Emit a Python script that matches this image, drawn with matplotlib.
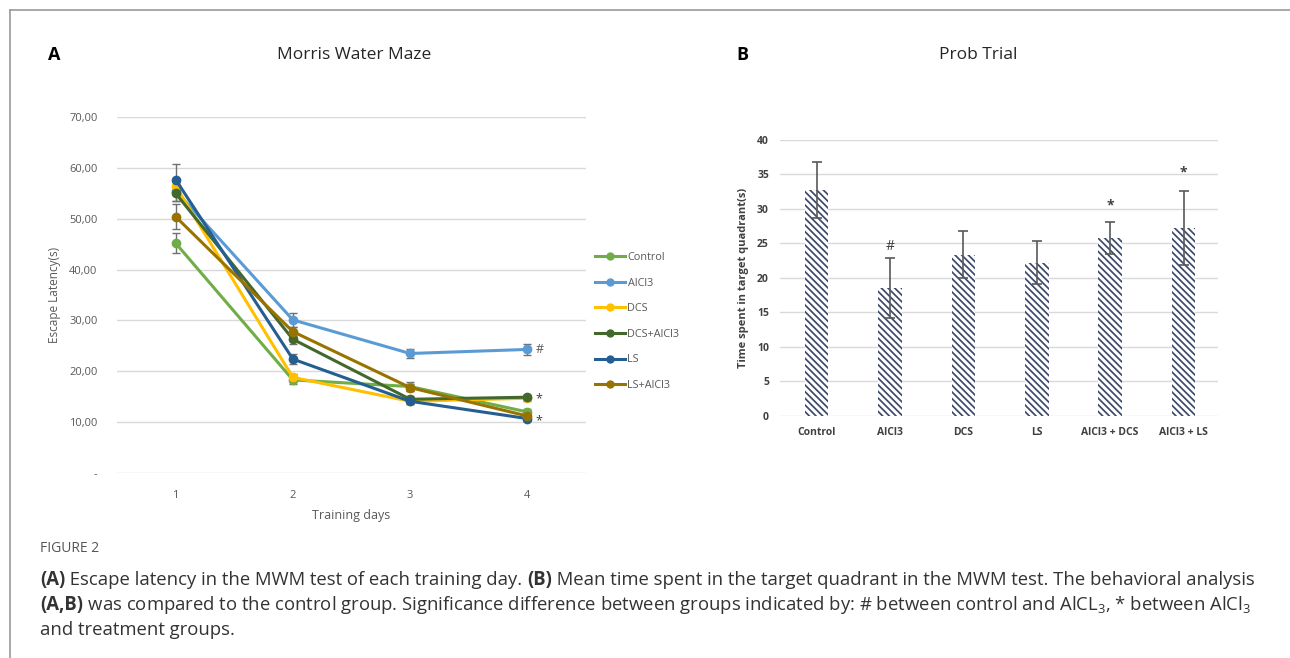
import matplotlib
matplotlib.use("Agg")
import matplotlib.pyplot as plt
from matplotlib.lines import Line2D
import numpy as np

plt.rcParams['font.family'] = ['Open Sans', 'DejaVu Sans']
plt.rcParams['mathtext.fontset'] = 'custom'
plt.rcParams['mathtext.rm'] = 'Open Sans'
plt.rcParams['mathtext.it'] = 'Open Sans'
plt.rcParams['mathtext.bf'] = 'Open Sans:bold'
plt.rcParams['hatch.linewidth'] = 1.25

# ---------------- data: Morris Water Maze ----------------
days = [1, 2, 3, 4]
groups = ["Control", "AlCl3", "DCS", "DCS+AlCl3", "LS", "LS+AlCl3"]
control = [45.2, 18.3, 17.0, 12.0]
alcl3 = [55.5, 30.1, 23.5, 24.3]
dcs = [56.4, 18.8, 14.1, 14.7]
dcs_alcl3 = [55.0, 26.3, 14.5, 14.9]
ls = [57.7, 22.4, 14.1, 10.7]
ls_alcl3 = [50.4, 27.8, 16.8, 11.2]
control_err = [2.0, 0.8, 0.8, 0.6]
alcl3_err = [2.0, 1.3, 0.9, 1.0]
dcs_err = [1.5, 0.6, 0.5, 0.5]
dcs_alcl3_err = [1.5, 1.0, 0.6, 0.5]
ls_err = [3.0, 1.0, 0.6, 0.5]
ls_alcl3_err = [2.5, 0.9, 0.7, 0.6]
line_colors = ["#70AD47", "#5B9BD5", "#FFC000", "#43682B", "#255E91", "#997300"]
left_yticks = [0, 10, 20, 30, 40, 50, 60, 70]
left_yticklabels = ["-", "10,00", "20,00", "30,00", "40,00", "50,00", "60,00", "70,00"]

# ---------------- data: Probe trial ----------------
probe_groups = ["Control", "AlCl3", "DCS", "LS", "AlCl3 + DCS", "AlCl3 + LS"]
probe_labels = ["Control", "AlCl3", "DCS", "LS", "AlCl3 + DCS", "AlCl3 + LS"]
probe_means = [32.7, 18.5, 23.3, 22.2, 25.7, 27.2]
probe_err = [4.0, 4.3, 3.4, 3.1, 2.3, 5.3]
probe_marks = ["", "#", "", "", "*", "*"]
probe_mark_y = [0, 24.5, 0, 0, 30.4, 35.3]

W, H = 1290, 658
fig = plt.figure(figsize=(W / 100, H / 100), dpi=100)
fig.patch.set_facecolor("white")

def fx(px):
    return px / W

def fy(py):
    return 1 - py / H

# border lines
fig.add_artist(Line2D([fx(10), 1.0], [fy(10), fy(10)], color="#9a9a9a", lw=1.2))
fig.add_artist(Line2D([fx(10), fx(10)], [fy(10), 0.0], color="#9a9a9a", lw=1.2))

# ---------------- left chart ----------------
axL = fig.add_axes([fx(117), fy(473), fx(586) - fx(117), fy(117) - fy(473)])
series = [control, alcl3, dcs, dcs_alcl3, ls, ls_alcl3]
errs = [control_err, alcl3_err, dcs_err, dcs_alcl3_err, ls_err, ls_alcl3_err]
for name, vals, err, col in zip(groups, series, errs, line_colors):
    axL.errorbar(days, vals, yerr=err, color=col, lw=2.2, marker="o", ms=6,
                 ecolor="#707070", elinewidth=1.0, capsize=3, capthick=1.0,
                 label=name, zorder=3)
axL.set_xlim(0.5, 4.5)
axL.set_ylim(0, 70)
axL.set_yticks(left_yticks)
axL.set_yticklabels(left_yticklabels)
axL.set_xticks(days)
axL.grid(axis="y", color="#d9d9d9", lw=1.0)
axL.set_axisbelow(True)
for s in axL.spines.values():
    s.set_visible(False)
axL.tick_params(length=0, labelsize=8, colors="#595959", pad=14)
axL.tick_params(axis="x", pad=12)
axL.set_ylabel("Escape Latency(s)", fontsize=8.5, color="#595959", labelpad=6)
axL.set_xlabel("Training days", fontsize=9, color="#595959", labelpad=6)
axL.text(4.07, alcl3[3], "#", fontsize=9, color="#595959", va="center", ha="left")
axL.text(4.07, dcs_alcl3[3] - 0.3, "*", fontsize=9, color="#404040", va="center", ha="left")
axL.text(4.07, ls[3] - 0.5, "*", fontsize=9, color="#404040", va="center", ha="left")

handles = [Line2D([0], [0], color=c, lw=2.2, marker="o", ms=5) for c in line_colors]
leg = fig.legend(handles, groups, loc="upper left",
                 bbox_to_anchor=(fx(595), fy(252)), frameon=False, fontsize=7.8,
                 labelspacing=1.35, handlelength=2.8, handletextpad=0.2,
                 labelcolor="#595959", borderaxespad=0, borderpad=0)

fig.text(fx(48), fy(55), "A", fontsize=13, fontweight="bold", ha="left", va="center")
fig.text(fx(354), fy(55), "Morris Water Maze", fontsize=12.5, ha="center", va="center", color="#262626")

# ---------------- right chart ----------------
axR = fig.add_axes([fx(780), fy(416), fx(1218) - fx(780), fy(139.5) - fy(416)])
x = np.arange(len(probe_groups))
axR.bar(x, probe_means, width=0.32, color="white", edgecolor="#3F4A6B",
        hatch="\\\\\\\\\\", linewidth=0, zorder=2)
axR.errorbar(x, probe_means, yerr=probe_err, fmt="none", ecolor="#595959",
             elinewidth=1.2, capsize=3.5, capthick=1.2, zorder=3)
for xi, m, my in zip(x, probe_marks, probe_mark_y):
    if m:
        axR.text(xi, my, m, ha="center", va="center", fontsize=10,
                 color="#404040", fontweight="bold" if m == "*" else "normal")
axR.set_xlim(-0.5, 5.47)
axR.set_ylim(0, 40)
axR.set_yticks(range(0, 41, 5))
axR.set_xticks(x)
axR.set_xticklabels(probe_labels)
axR.grid(axis="y", color="#d9d9d9", lw=1.0)
axR.set_axisbelow(True)
for s in axR.spines.values():
    s.set_visible(False)
axR.tick_params(length=0, labelsize=7.5, colors="#404040", pad=8)
for lab in axR.get_xticklabels() + axR.get_yticklabels():
    lab.set_fontweight("bold")
axR.set_ylabel("Time spent in target quadrant(s)", fontsize=8, color="#404040",
               fontweight="bold", labelpad=6)

fig.text(fx(736), fy(55), "B", fontsize=13, fontweight="bold", ha="left", va="center")
fig.text(fx(978), fy(55), "Prob Trial", fontsize=12.5, ha="center", va="center", color="#262626")

# ---------------- caption ----------------
fig.text(fx(40), fy(548), "FIGURE 2", fontsize=10, color="#555555", va="center", ha="left")

renderer = fig.canvas.get_renderer()
cap_color = "#333333"
cap_size = 13.35

def runs(xpx, ypx, parts):
    xcur = xpx
    for txt, bold in parts:
        t = fig.text(fx(xcur), fy(ypx), txt, fontsize=cap_size, color=cap_color,
                     fontweight="bold" if bold else "normal", va="center", ha="left")
        bb = t.get_window_extent(renderer=renderer)
        xcur += bb.width

runs(40, 580, [("(A)", True),
               (" Escape latency in the MWM test of each training day. ", False),
               ("(B)", True),
               (" Mean time spent in the target quadrant in the MWM test. The behavioral analysis", False)])
runs(40, 605, [("(A,B)", True),
               (" was compared to the control group. Significance difference between groups indicated by: # between control and AlCL$_3$, * between AlCl$_3$", False)])
runs(40, 630, [("and treatment groups.", False)])

fig.savefig("out.png", dpi=100, facecolor="white")
